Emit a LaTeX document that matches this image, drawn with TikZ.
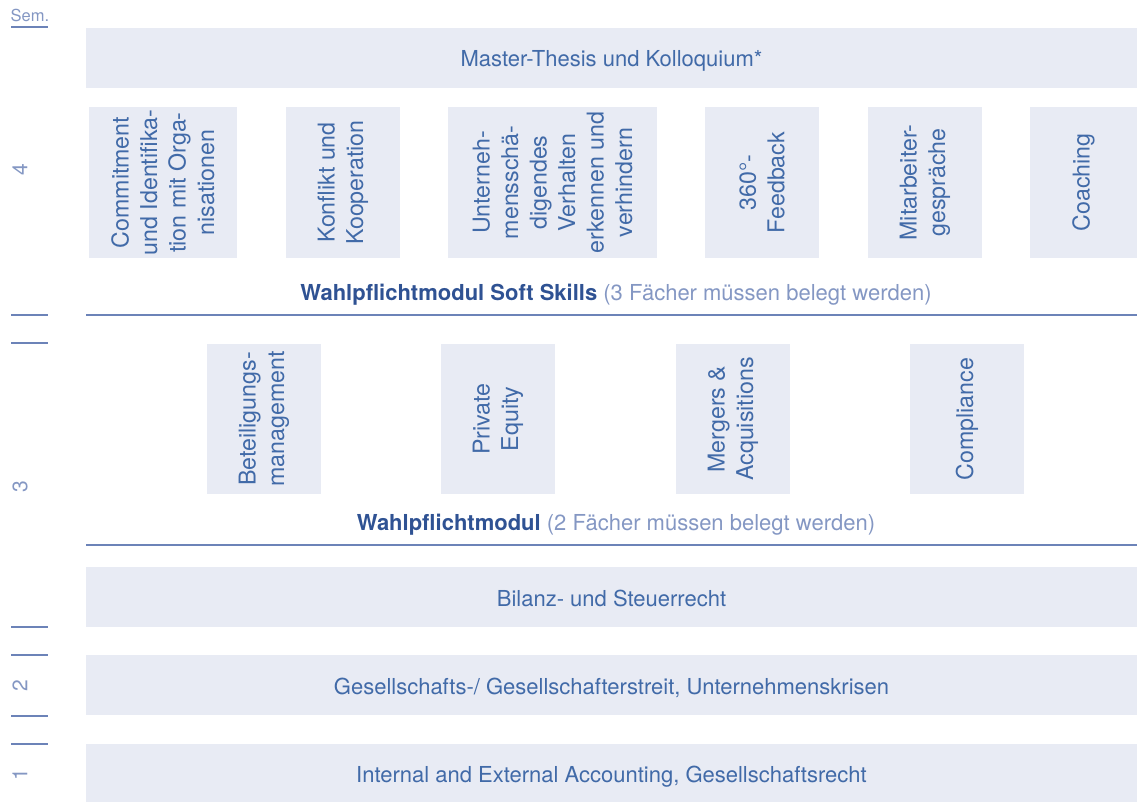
\documentclass[tikz,border=0pt]{standalone}
\usepackage{fontspec}
\setmainfont{TeX Gyre Heros}
\definecolor{boxfill}{HTML}{E8EBF4}
\definecolor{txtblue}{HTML}{416AA8}
\definecolor{darkblue}{HTML}{2F5293}
\definecolor{lightblue}{HTML}{8497C3}
\definecolor{lineblue}{HTML}{6C83B8}
\begin{document}
\begin{tikzpicture}[x=1pt,y=-1pt,
  band/.style={fill=boxfill, draw=none, inner sep=0pt, minimum width=1051pt, minimum height=60pt, text height=19pt, text depth=1pt, text=txtblue, font=\fontsize{22}{26}\selectfont},
  vbox/.style={fill=boxfill, draw=none, rotate=90, align=center, inner sep=0pt, text=txtblue, font=\fontsize{23.2}{28.5}\selectfont},
  sepline/.style={draw=lineblue, line width=1.1pt},
  tick/.style={draw=lineblue, line width=1.3pt},
  semnum/.style={rotate=90, text=lightblue, font=\fontsize{21}{24}\selectfont, inner sep=0pt},
  grouplabel/.style={inner sep=0pt, font=\fontsize{22}{26}\selectfont}
]
\useasboundingbox (0,0) rectangle (1137,802);

% Semester column
\node[inner sep=0pt, text=lightblue, font=\fontsize{16.5}{19}\selectfont] (sem) at (30,15) {Sem.};
\draw[tick] (11,27) -- (48,27);
\node[semnum] (s4) at (20,170) {4};
\node[semnum] (s3) at (20,487) {3};
\node[semnum] (s2) at (20,686) {2};
\node[semnum] (s1) at (20,775) {1};
\draw[tick] (11,315) -- (48,315);
\draw[tick] (11,343) -- (48,343);
\draw[tick] (11,627) -- (48,627);
\draw[tick] (11,655) -- (48,655);
\draw[tick] (11,716) -- (48,716);
\draw[tick] (11,744) -- (48,744);

% Semester 4
\node[band] (thesis) at (611.5,58) {Master-Thesis und Kolloquium*};
\node[vbox, minimum width=151pt, minimum height=148pt] (commit) at (163,182.5) {Commitment\\und Identifika-\\tion mit Orga-\\nisationen};
\node[vbox, minimum width=151pt, minimum height=114pt] (konflikt) at (343,182.5) {Konflikt und\\Kooperation};
\node[vbox, minimum width=151pt, minimum height=209pt] (schaed) at (552.5,182.5) {Unterneh-\\mensschä-\\digendes\\Verhalten\\erkennen und\\verhindern};
\node[vbox, minimum width=151pt, minimum height=114pt] (feedback) at (762,182.5) {360°-\\Feedback};
\node[vbox, minimum width=151pt, minimum height=114pt] (mitarb) at (925,182.5) {Mitarbeiter-\\gespräche};
\node[vbox, minimum width=151pt, minimum height=107pt] (coach) at (1083.5,182.5) {Coaching};
\node[grouplabel] (softlabel) at (616,295) {\textcolor{darkblue}{\bfseries Wahlpflichtmodul Soft Skills} \textcolor{lightblue}{(3 Fächer müssen belegt werden)}};
\draw[sepline] (86,315) -- (1137,315);

% Semester 3
\node[vbox, minimum width=150pt, minimum height=114pt] (beteil) at (264,419) {Beteiligungs-\\management};
\node[vbox, minimum width=150pt, minimum height=114pt] (pe) at (498,419) {Private\\Equity};
\node[vbox, minimum width=150pt, minimum height=114pt] (ma) at (733,419) {Mergers \&\\Acquisitions};
\node[vbox, minimum width=150pt, minimum height=114pt] (compl) at (967,419) {Compliance};
\node[grouplabel] (wplabel) at (616,525) {\textcolor{darkblue}{\bfseries Wahlpflichtmodul} \textcolor{lightblue}{(2 Fächer müssen belegt werden)}};
\draw[sepline] (86,545) -- (1137,545);

% Semesters 2 and 1
\node[band] (bilanz) at (611.5,597) {Bilanz- und Steuerrecht};
\node[band] (gesell) at (611.5,685) {Gesellschafts-/ Gesellschafterstreit, Unternehmenskrisen};
\node[band, minimum height=58pt] (internal) at (611.5,773) {Internal and External Accounting, Gesellschaftsrecht};
\end{tikzpicture}
\end{document}
